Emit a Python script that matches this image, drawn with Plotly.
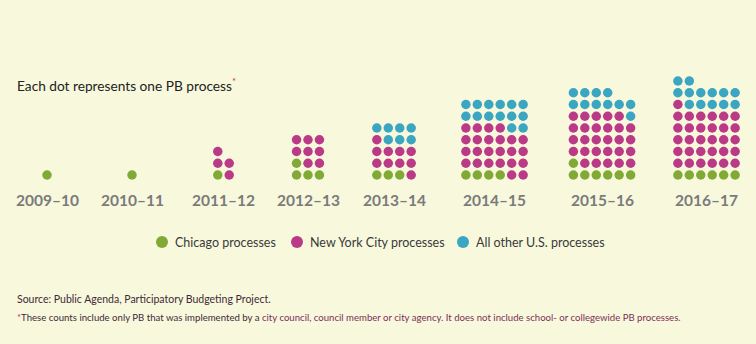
import math
import plotly.graph_objects as go

# ---- data ----
years = ["2009–10", "2010–11", "2011–12", "2012–13", "2013–14", "2014–15", "2015–16", "2016–17"]
chicago = [1, 1, 1, 4, 3, 4, 7, 6]
new_york = [0, 0, 4, 8, 10, 24, 28, 31]
other_us = [0, 0, 0, 0, 7, 14, 11, 13]
series_names = ["Chicago processes", "New York City processes", "All other U.S. processes"]

# ---- layout / style constants ----
W, H = 756, 344
BG = "#f8f8dd"
COLORS = ["#80aa35", "#bb3a88", "#3ba6c2"]
GROUP_X = [47, 132, 223.5, 308, 394, 494.5, 602, 706.5]   # group centres (px on x axis)
COL_STEP = 11.45    # px between columns
ROW_PX = 11.75      # px between rows
BASE_PX = 175       # pixel row of bottom dots
MAX_COLS = 6

# y axis in "row" units, mapped so row 0 sits at BASE_PX
y_lo = -(H - BASE_PX) / ROW_PX
y_hi = BASE_PX / ROW_PX

def py(pix):
    return (BASE_PX - pix) / ROW_PX

xs = [[], [], []]
ys = [[], [], []]
for gi, yr in enumerate(years):
    counts = [chicago[gi], new_york[gi], other_us[gi]]
    total = sum(counts)
    ncols = min(MAX_COLS, int(math.isqrt(total)))
    seq = []
    for si, c in enumerate(counts):
        seq += [si] * c
    for k, si in enumerate(seq):
        r, c = divmod(k, ncols)
        xs[si].append(GROUP_X[gi] + (c - (ncols - 1) / 2) * COL_STEP)
        ys[si].append(r)

fig = go.Figure()
for si in range(3):
    fig.add_trace(go.Scatter(
        x=xs[si], y=ys[si], mode="markers", name=series_names[si],
        marker=dict(size=9.5, color=COLORS[si], line=dict(width=0)),
        showlegend=False, hoverinfo="skip"))

# manual legend
LEG_X = [162, 297, 463]
LEG_Y = 242
fig.add_trace(go.Scatter(
    x=LEG_X, y=[py(LEG_Y)] * 3, mode="markers",
    marker=dict(size=12, color=COLORS, line=dict(width=0)),
    showlegend=False, hoverinfo="skip"))

ann = []
for i, name in enumerate(series_names):
    ann.append(dict(x=LEG_X[i] + 11, y=py(LEG_Y), xref="x", yref="y", text=name,
                    showarrow=False, xanchor="left", yanchor="middle",
                    font=dict(family="Lato", size=12.5, color="#3a3a3a")))

for gi, yr in enumerate(years):
    ann.append(dict(x=GROUP_X[gi], y=py(200), xref="x", yref="y", text=yr,
                    showarrow=False, xanchor="center", yanchor="middle",
                    font=dict(family="Lato", size=15.5, color="#7b7b7b", weight="bold")))

ann.append(dict(x=15, y=py(85), xref="x", yref="y",
                text="Each dot represents one PB process<span style='color:#c0307f'><sup>*</sup></span>",
                showarrow=False, xanchor="left", yanchor="middle",
                font=dict(family="Lato", size=13.7, color="#222222")))

ann.append(dict(x=15, y=py(299), xref="x", yref="y",
                text="Source: Public Agenda, Participatory Budgeting Project.",
                showarrow=False, xanchor="left", yanchor="middle",
                font=dict(family="Lato", size=10.5, color="#3e2a36")))

ann.append(dict(x=15, y=py(317), xref="x", yref="y",
                text="<span style='color:#c0307f'>*</span>These counts include only PB that was implemented by a "
                     "<span style='color:#7e2f57'>city council, council member or city agency. It does not include "
                     "school- or collegewide PB processes.</span>",
                showarrow=False, xanchor="left", yanchor="middle",
                font=dict(family="Lato", size=9.6, color="#3e2a36")))

fig.update_layout(
    width=W, height=H,
    margin=dict(l=0, r=0, t=0, b=0),
    paper_bgcolor=BG, plot_bgcolor=BG,
    xaxis=dict(range=[0, W], visible=False, fixedrange=True),
    yaxis=dict(range=[y_lo, y_hi], visible=False, fixedrange=True),
    annotations=ann,
)

fig.write_html("out.html", config={"displayModeBar": False},
               post_script="document.body.style.margin='0';document.body.style.overflow='hidden';"
                           "document.body.style.background='%s';" % BG)
